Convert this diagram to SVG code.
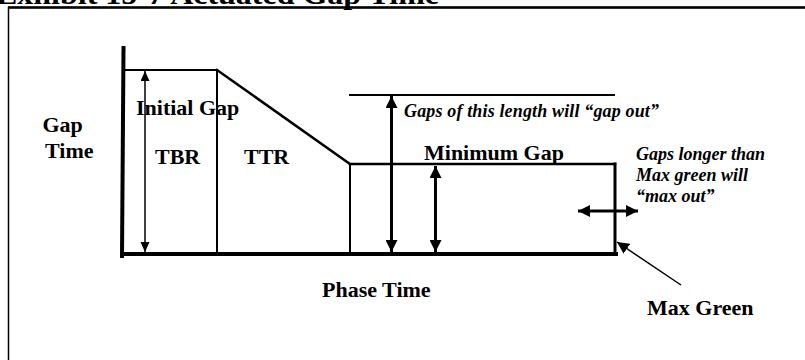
<svg xmlns="http://www.w3.org/2000/svg" width="805" height="360" viewBox="0 0 805 360">
<style>
.t{font-family:"Liberation Serif","Times New Roman",serif;font-weight:bold;fill:#000}
.b{font-size:22px}
.i{font-size:18px;font-style:italic}
.ln{stroke:#000;fill:none;stroke-linecap:square}
.ar{stroke:#000;fill:none}
</style>
<defs>
<marker id="hs" markerUnits="userSpaceOnUse" markerWidth="10" markerHeight="10" refX="10" refY="4.5" orient="auto-start-reverse"><path d="M0,0 L10,4.5 L0,9 z" fill="#000"/></marker>
<marker id="hb" markerUnits="userSpaceOnUse" markerWidth="12" markerHeight="12" refX="12" refY="6" orient="auto-start-reverse"><path d="M0,0 L12,6 L0,12 z" fill="#000"/></marker>
</defs>
<rect width="805" height="360" fill="#fff"/>
<g id="title"><text class="t" x="-4" y="4" font-size="29" textLength="443" lengthAdjust="spacingAndGlyphs">Exhibit 15-7 Actuated Gap Time</text></g>
<g id="frame"><path class="ln" d="M8.5,360 V7.5 H805" stroke-width="1.5" style="stroke-linecap:butt"/><path d="M8,7.5 H805" stroke="#000" stroke-width="2.5"/></g>
<g id="graph">
<line class="ln" x1="123.5" y1="48" x2="122" y2="256" stroke-width="4"/>
<line class="ln" x1="122" y1="254" x2="616" y2="254" stroke-width="4"/>
<line class="ln" x1="123" y1="70" x2="217" y2="70" stroke-width="2"/>
<line class="ln" x1="217" y1="70" x2="217" y2="253" stroke-width="2"/>
<line class="ln" x1="217" y1="70" x2="350" y2="164" stroke-width="2.5"/>
<line class="ln" x1="350" y1="164" x2="615" y2="164" stroke-width="2.5"/>
<line class="ln" x1="350" y1="164" x2="350" y2="253" stroke-width="2"/>
<line class="ln" x1="615" y1="164" x2="615" y2="253" stroke-width="3"/>
<line class="ln" x1="350" y1="95" x2="614" y2="95" stroke-width="2"/>
</g>
<g id="connectors">
<line class="ar" x1="145" y1="71" x2="145" y2="252" stroke-width="1.5" marker-start="url(#hs)" marker-end="url(#hs)"/>
<line class="ar" x1="391.5" y1="96" x2="391.5" y2="252" stroke-width="3" marker-start="url(#hb)" marker-end="url(#hb)"/>
<line class="ar" x1="435.5" y1="166" x2="435.5" y2="252" stroke-width="3" marker-start="url(#hb)" marker-end="url(#hb)"/>
<line class="ar" x1="578" y1="211" x2="638" y2="211" stroke-width="3" marker-start="url(#hb)" marker-end="url(#hb)"/>
<line class="ar" x1="681" y1="285" x2="617" y2="242" stroke-width="1.5" marker-end="url(#hb)"/>
</g>
<g id="label-gap-time"><text class="t b" x="42.5" y="132">Gap</text><text class="t b" x="45" y="158">Time</text></g>
<g id="label-initial-gap"><text class="t b" x="136" y="115">Initial Gap</text></g>
<g id="label-tbr"><text class="t b" x="155" y="164">TBR</text></g>
<g id="label-ttr"><text class="t b" x="244" y="164">TTR</text></g>
<g id="label-minimum-gap"><text class="t b" x="424" y="160">Minimum Gap</text></g>
<g id="label-gap-out"><text class="t i" x="404" y="117" textLength="255" lengthAdjust="spacing">Gaps of this length will “gap out”</text></g>
<g id="label-max-out"><text class="t i" x="636" y="160">Gaps longer than</text><text class="t i" x="636" y="181">Max green will</text><text class="t i" x="636" y="202">“max out”</text></g>
<g id="label-phase-time"><text class="t b" x="322" y="297">Phase Time</text></g>
<g id="label-max-green"><text class="t b" x="647" y="315">Max Green</text></g>
</svg>
